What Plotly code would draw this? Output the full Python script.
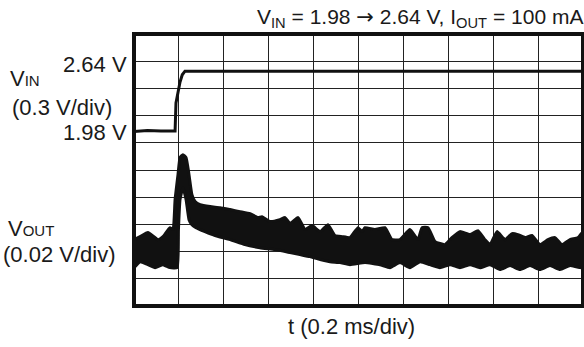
import plotly.graph_objects as go

# ---- data ----
# time in ms (0.2 ms/div, 10 divisions)
vin_t = [0.000, 0.060, 0.120, 0.183, 0.187, 0.196, 0.205, 0.215, 0.227, 0.400, 1.000, 1.500, 2.000]
vin_v = [1.975, 1.985, 1.980, 1.980, 2.290, 2.420, 2.520, 2.600, 2.640, 2.640, 2.640, 2.640, 2.640]

# VOUT deviation (mV, 20 mV/div): upper and lower edges of the noisy trace
vout_up_t = [0.000, 0.027, 0.062, 0.107, 0.129, 0.160, 0.174, 0.183, 0.196, 0.205, 0.218, 0.232,
             0.245, 0.258, 0.272, 0.294, 0.339, 0.383, 0.428, 0.472, 0.517, 0.552, 0.570, 0.606,
             0.650, 0.673, 0.695, 0.731, 0.762, 0.793, 0.829, 0.864, 0.895, 0.927, 0.962, 0.998,
             1.016, 1.029, 1.073, 1.118, 1.149, 1.185, 1.229, 1.265, 1.283, 1.310, 1.341, 1.385,
             1.416, 1.452, 1.497, 1.532, 1.563, 1.586, 1.617, 1.653, 1.684, 1.710, 1.742, 1.773,
             1.808, 1.844, 1.875, 1.906, 1.942, 1.978, 2.000]
vout_up_mv = [8.8, 11.0, 14.0, 8.8, 11.0, 17.6, 16.2, 38.2, 56.6, 69.1, 71.3, 69.1,
              56.6, 41.9, 36.8, 34.5, 33.1, 32.3, 30.9, 29.4, 27.9, 25.0, 25.7, 22.1,
              23.5, 25.0, 20.6, 25.0, 16.2, 19.1, 14.7, 19.8, 11.8, 11.0, 10.3, 17.6,
              14.7, 17.6, 16.2, 17.6, 8.8, 8.8, 16.2, 8.8, 17.6, 17.6, 7.4, 5.1,
              10.3, 14.7, 12.5, 15.4, 8.8, 5.1, 14.7, 8.8, 13.2, 12.5, 10.3, 11.8,
              5.1, 8.8, 10.3, 5.1, 8.8, 10.3, 14.7]

vout_lo_t = [0.000, 0.027, 0.062, 0.094, 0.129, 0.160, 0.192, 0.198, 0.205, 0.218, 0.232, 0.245,
             0.258, 0.276, 0.316, 0.361, 0.428, 0.494, 0.561, 0.628, 0.695, 0.739, 0.784, 0.829,
             0.873, 0.918, 0.962, 1.029, 1.096, 1.140, 1.185, 1.229, 1.274, 1.318, 1.363, 1.408,
             1.452, 1.497, 1.541, 1.586, 1.630, 1.675, 1.719, 1.764, 1.808, 1.853, 1.898, 1.942,
             2.000]
vout_lo_mv = [-11.8, -7.4, -9.6, -11.8, -9.6, -11.8, -11.8, 16.2, 38.2, 47.0, 38.2, 23.5,
              19.8, 17.6, 14.7, 11.8, 8.8, 5.1, 2.9, 1.5, -0.7, -2.2, -3.7, -5.9,
              -7.4, -8.1, -9.6, -8.1, -9.6, -11.8, -8.1, -11.8, -7.4, -9.6, -11.8, -9.6,
              -11.8, -9.6, -11.8, -9.6, -13.2, -10.3, -13.2, -10.3, -13.2, -10.3, -13.2, -10.3,
              -11.8]

title_text = ("V<sub>IN</sub> = 1.98 <span style='font-family:DejaVu Sans'>\u2192</span> "
              "2.64 V, I<sub>OUT</sub> = 100 mA")
x_label = "t (0.2 ms/div)"

W, H = 584, 347
L, R, T, B = 134, 583, 34, 306
FS = 22
SMALL = 15

fig = go.Figure()

# VOUT band: upper edge forward, lower edge backward
poly_t = vout_up_t + vout_lo_t[::-1]
poly_v = vout_up_mv + vout_lo_mv[::-1]
fig.add_trace(go.Scatter(x=poly_t, y=poly_v, yaxis="y2", mode="lines",
                         fill="toself", fillcolor="#111111",
                         line=dict(color="#111111", width=3, shape="spline", smoothing=0.4),
                         hoverinfo="skip", showlegend=False))

fig.add_trace(go.Scatter(x=vin_t, y=vin_v, mode="lines",
                         line=dict(color="#111111", width=3),
                         hoverinfo="skip", showlegend=False))

fig.update_layout(
    width=W, height=H, autosize=False,
    margin=dict(l=L, r=W - R, t=T, b=H - B, pad=0),
    paper_bgcolor="white", plot_bgcolor="white",
    font=dict(family="Liberation Sans, Arial, sans-serif", size=FS, color="#1a1a1a"),
    xaxis=dict(range=[0, 2], dtick=0.2, tick0=0, showgrid=True, gridcolor="#222222",
               gridwidth=1, zeroline=False, showticklabels=False, ticks="", showline=False),
    yaxis=dict(range=[0.05, 3.05], dtick=0.3, tick0=0.05, showgrid=True, gridcolor="#222222",
               gridwidth=1, zeroline=False, showticklabels=False, ticks="", showline=False),
    yaxis2=dict(range=[-40, 160], overlaying="y", showgrid=False, zeroline=False,
                showticklabels=False, ticks="", showline=False),
    showlegend=False,
)

# scope frame
fig.add_shape(type="rect", xref="paper", yref="paper", x0=0, x1=1, y0=0, y1=1,
              line=dict(color="#111111", width=4), fillcolor="rgba(0,0,0,0)", layer="above")

def px(xp):
    return (xp - L) / (R - L)

def py(yp):
    return (B - yp) / (B - T)

def note(text, x, y, xanchor, size=FS):
    fig.add_annotation(text=text, xref="paper", yref="paper", x=px(x), y=py(y),
                       xanchor=xanchor, yanchor="middle", showarrow=False,
                       font=dict(size=size), align="left")

note(title_text, 585, 18, "right", size=21)
note("V<span style='font-size:%dpx'>IN</span>" % SMALL, 8, 78, "left")
note("2.64 V", 129, 64, "right")
note("(0.3 V/div)", 10, 107, "left")
note("1.98 V", 129, 132, "right")
note("V<span style='font-size:%dpx'>OUT</span>" % SMALL, 6, 228, "left")
note("(0.02 V/div)", 1, 254, "left")
note(x_label, 351, 326, "center")

fig.write_html("out.html", config={"displayModeBar": False, "staticPlot": True})

# remove the browser's default page margin so the figure sits at the window origin
with open("out.html", "r", encoding="utf-8") as f:
    html = f.read()
html = html.replace("<head>", "<head><style>html,body{margin:0;padding:0;overflow:hidden;}</style>", 1)
with open("out.html", "w", encoding="utf-8") as f:
    f.write(html)
